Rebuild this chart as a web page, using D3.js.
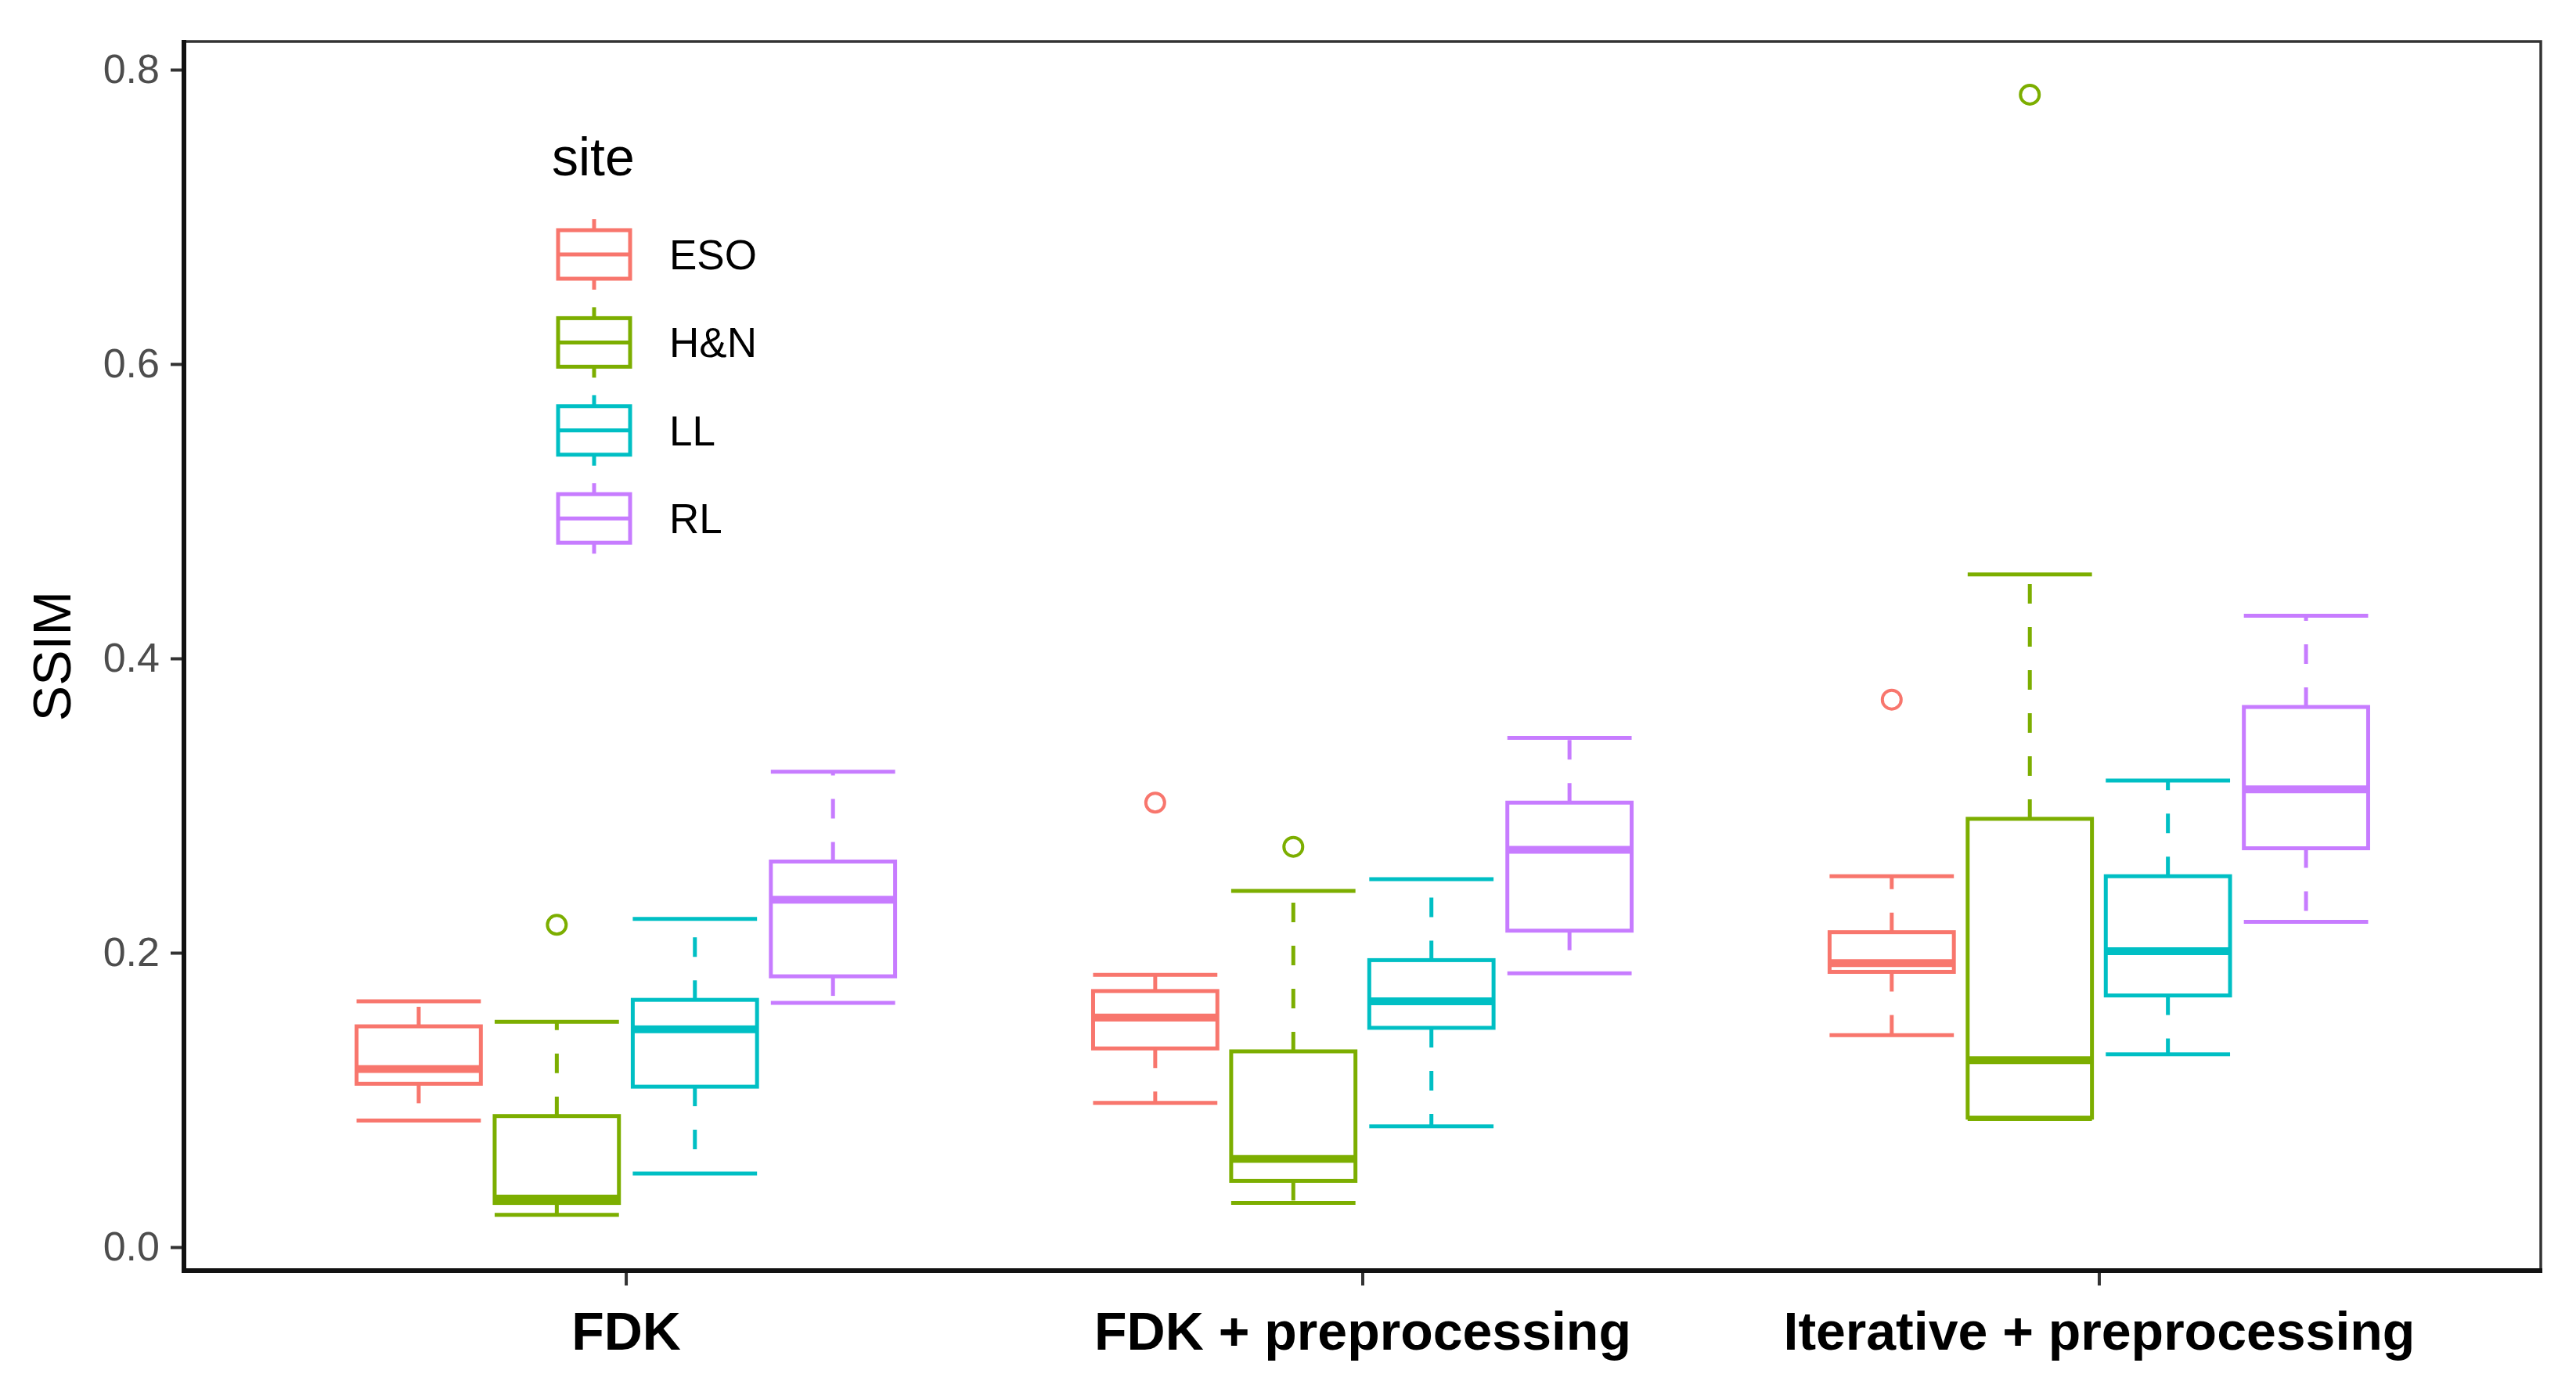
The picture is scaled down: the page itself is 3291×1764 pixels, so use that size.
<!DOCTYPE html>
<html>
<head>
<meta charset="utf-8">
<script src="https://cdn.jsdelivr.net/npm/d3@7"></script>
<style>
    body { margin: 0; background: #fff; }
    text { font-family: 'Liberation Sans', Arial, sans-serif; }
</style>
</head>
<body>
<script>
// categories
const methods = ['FDK', 'FDK + preprocessing', 'Iterative + preprocessing']
const sites = ['ESO', 'H&N', 'LL', 'RL']
const siteColors = ['#F8766D', '#7CAE00', '#00BFC4', '#C77CFF']
const yTicks = [0.0, 0.2, 0.4, 0.6, 0.8]

// box stats, one row per method, one value per site (ESO, H&N, LL, RL)
const whiskerLow = [
    [0.086, 0.022, 0.050, 0.166],
    [0.098, 0.030, 0.082, 0.186],
    [0.144, 0.087, 0.131, 0.221]
]
const q1 = [
    [0.111, 0.030, 0.109, 0.184],
    [0.135, 0.045, 0.149, 0.215],
    [0.187, 0.088, 0.171, 0.271]
]
const median = [
    [0.121, 0.033, 0.148, 0.236],
    [0.156, 0.060, 0.167, 0.270],
    [0.193, 0.127, 0.201, 0.311]
]
const q3 = [
    [0.150, 0.089, 0.168, 0.262],
    [0.174, 0.133, 0.195, 0.302],
    [0.214, 0.291, 0.252, 0.367]
]
const whiskerHigh = [
    [0.167, 0.153, 0.223, 0.323],
    [0.185, 0.242, 0.250, 0.346],
    [0.252, 0.457, 0.317, 0.429]
]

// outliers: [method, site, value]
const outliers = [
    ['FDK', 'H&N', 0.219],
    ['FDK + preprocessing', 'ESO', 0.302],
    ['FDK + preprocessing', 'H&N', 0.272],
    ['Iterative + preprocessing', 'ESO', 0.372],
    ['Iterative + preprocessing', 'H&N', 0.783]
]

const W = 3291
const H = 1764
const panel = { left: 235, right: 3246, top: 53, bottom: 1623 }
const lw = 5

const boxes = []
methods.forEach((m, i) => {
    sites.forEach((s, j) => {
        boxes.push({
            method: m, site: s,
            lo: whiskerLow[i][j], q1: q1[i][j], med: median[i][j],
            q3: q3[i][j], hi: whiskerHigh[i][j]
        })
    })
})

const svg = d3.select('body')
    .append('svg')
    .attr('width', W)
    .attr('height', H)

const x = d3.scalePoint()
    .domain(methods)
    .range([panel.left, panel.right])
    .padding(0.6)

const dodgeWidth = x.step() * 0.75
const xSite = d3.scaleBand()
    .domain(sites)
    .range([-dodgeWidth / 2, dodgeWidth / 2])
    .paddingInner(0.1)
    .paddingOuter(0.05)

const y = d3.scaleLinear()
    .domain([0, 0.8])
    .range([1593, 89])

const color = d3.scaleOrdinal()
    .domain(sites)
    .range(siteColors)

// panel border
svg.append('rect')
    .attr('x', panel.left)
    .attr('y', panel.top)
    .attr('width', panel.right - panel.left)
    .attr('height', panel.bottom - panel.top)
    .attr('fill', 'none')
    .attr('stroke', '#333')
    .attr('stroke-width', 3.5)

const bw = xSite.bandwidth()
const g = svg.append('g')

const boxG = g.selectAll('g.box')
    .data(boxes)
    .enter()
    .append('g')
    .attr('class', 'box')
    .attr('transform', d => `translate(${x(d.method) + xSite(d.site)}, 0)`)
    .attr('stroke', d => color(d.site))
    .attr('fill', 'none')

// whiskers (dashed)
boxG.append('line')
    .attr('x1', bw / 2).attr('x2', bw / 2)
    .attr('y1', d => y(d.q3)).attr('y2', d => y(d.hi))
    .attr('stroke-width', lw)
    .attr('stroke-dasharray', '25,30')
boxG.append('line')
    .attr('x1', bw / 2).attr('x2', bw / 2)
    .attr('y1', d => y(d.q1)).attr('y2', d => y(d.lo))
    .attr('stroke-width', lw)
    .attr('stroke-dasharray', '25,30')

// whisker caps
boxG.append('line')
    .attr('x1', 0).attr('x2', bw)
    .attr('y1', d => y(d.hi)).attr('y2', d => y(d.hi))
    .attr('stroke-width', lw)
boxG.append('line')
    .attr('x1', 0).attr('x2', bw)
    .attr('y1', d => y(d.lo)).attr('y2', d => y(d.lo))
    .attr('stroke-width', lw)

// box
boxG.append('rect')
    .attr('x', 0)
    .attr('width', bw)
    .attr('y', d => y(d.q3))
    .attr('height', d => y(d.q1) - y(d.q3))
    .attr('fill', '#fff')
    .attr('stroke-width', lw)

// median
boxG.append('line')
    .attr('x1', 0).attr('x2', bw)
    .attr('y1', d => y(d.med)).attr('y2', d => y(d.med))
    .attr('stroke-width', lw * 2)

// outliers
g.selectAll('circle.outlier')
    .data(outliers)
    .enter()
    .append('circle')
    .attr('class', 'outlier')
    .attr('cx', d => x(d[0]) + xSite(d[1]) + bw / 2)
    .attr('cy', d => y(d[2]))
    .attr('r', 12)
    .attr('fill', 'none')
    .attr('stroke', d => color(d[1]))
    .attr('stroke-width', 4)

// axes
const yAxis = d3.axisLeft(y)
    .tickValues(yTicks)
    .tickFormat(d3.format('.1f'))
    .tickSize(17)
    .tickPadding(14)

const yG = svg.append('g')
    .attr('transform', `translate(${panel.left}, 0)`)
    .call(yAxis)
yG.select('.domain').remove()
yG.selectAll('line').attr('stroke', '#333').attr('stroke-width', 4)
yG.selectAll('text')
    .attr('fill', '#4d4d4d')
    .style('font-size', '52px')

const xAxis = d3.axisBottom(x)
    .tickSize(19)
    .tickPadding(34)

const xG = svg.append('g')
    .attr('transform', `translate(0, ${panel.bottom})`)
    .call(xAxis)
xG.select('.domain').remove()
xG.selectAll('line').attr('stroke', '#333').attr('stroke-width', 4)
xG.selectAll('text')
    .attr('fill', '#000')
    .style('font-size', '68px')
    .style('font-weight', 'bold')

// axis lines (thicker than border)
svg.append('line')
    .attr('x1', panel.left).attr('x2', panel.left)
    .attr('y1', panel.top - 2).attr('y2', panel.bottom + 3)
    .attr('stroke', '#111').attr('stroke-width', 6)
svg.append('line')
    .attr('x1', panel.left - 3).attr('x2', panel.right + 2)
    .attr('y1', panel.bottom).attr('y2', panel.bottom)
    .attr('stroke', '#111').attr('stroke-width', 6)

svg.append('text')
    .attr('transform', `translate(90, ${(panel.top + panel.bottom) / 2}) rotate(-90)`)
    .attr('text-anchor', 'middle')
    .style('font-size', '68px')
    .text('SSIM')

// legend
const legend = svg.append('g')
    .attr('transform', 'translate(705, 0)')

legend.append('text')
    .attr('x', 0)
    .attr('y', 224)
    .style('font-size', '68px')
    .text('site')

const keyG = legend.selectAll('g.key')
    .data(sites)
    .enter()
    .append('g')
    .attr('class', 'key')
    .attr('transform', (d, i) => `translate(54, ${325 + i * 112.4})`)
    .attr('stroke', d => color(d))
    .attr('fill', 'none')
    .attr('stroke-width', lw)

keyG.append('line').attr('x1', 0).attr('x2', 0).attr('y1', -45).attr('y2', -31)
keyG.append('line').attr('x1', 0).attr('x2', 0).attr('y1', 31).attr('y2', 45)
keyG.append('rect').attr('x', -46).attr('y', -31).attr('width', 92).attr('height', 62)
keyG.append('line').attr('x1', -46).attr('x2', 46).attr('y1', 0).attr('y2', 0)

legend.selectAll('text.lab')
    .data(sites)
    .enter()
    .append('text')
    .attr('class', 'lab')
    .attr('x', 150)
    .attr('y', (d, i) => 325 + i * 112.4)
    .attr('dy', '0.36em')
    .style('font-size', '53px')
    .text(d => d)
</script>
</body>
</html>
